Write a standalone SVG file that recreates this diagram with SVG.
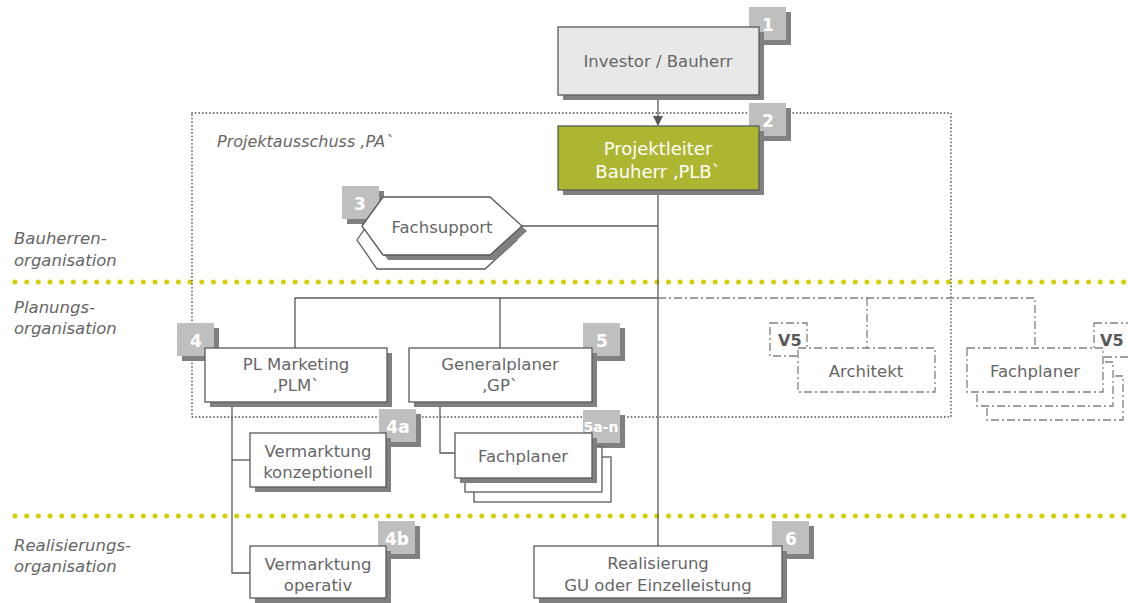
<svg xmlns="http://www.w3.org/2000/svg" width="1128" height="603" viewBox="0 0 1128 603">
<defs>
<style>
.t{font-family:"DejaVu Sans","Liberation Sans",sans-serif;font-size:16.5px;fill:#666;text-anchor:middle}
.lbl{font-family:"DejaVu Sans","Liberation Sans",sans-serif;font-size:16.5px;fill:#666;font-style:italic}
.box{fill:#fff;stroke:#595959;stroke-width:1.3}
.sh{fill:#808080}
.bd{fill:#bfbfbf}
.bn{font-family:"DejaVu Sans","Liberation Sans",sans-serif;font-weight:bold;font-size:17px;fill:#fff;text-anchor:middle}
.dd{fill:#fff;stroke:#808080;stroke-width:1.3;stroke-dasharray:8 3 2 3}
.ln{fill:none;stroke:#595959;stroke-width:1.3}
.ddl{fill:none;stroke:#808080;stroke-width:1.3;stroke-dasharray:8 3 2 3}
.v5{font-family:"DejaVu Sans","Liberation Sans",sans-serif;font-weight:bold;font-size:16px;fill:#595959}
</style>
<marker id="arr" markerWidth="10" markerHeight="10" refX="9" refY="5" orient="auto" markerUnits="userSpaceOnUse">
<path d="M0,0 L10,5 L0,10 Z" fill="#595959"/>
</marker>
</defs>
<rect width="1128" height="603" fill="#fff"/>

<g id="bands">
<line x1="15" y1="282" x2="1125" y2="282" stroke="#d4cf00" stroke-width="5" stroke-linecap="round" stroke-dasharray="0 11.67"/>
<line x1="15" y1="516" x2="1125" y2="516" stroke="#d4cf00" stroke-width="5" stroke-linecap="round" stroke-dasharray="0 11.67"/>
<text class="lbl" x="14" y="244">Bauherren-</text>
<text class="lbl" x="14" y="266">organisation</text>
<text class="lbl" x="14" y="313">Planungs-</text>
<text class="lbl" x="14" y="334">organisation</text>
<text class="lbl" x="14" y="551">Realisierungs-</text>
<text class="lbl" x="14" y="572">organisation</text>
</g>

<g id="pa">
<rect x="192" y="113" width="759" height="304" fill="none" stroke="#666" stroke-width="1.8" stroke-linecap="round" stroke-dasharray="0 3.6"/>
<text class="lbl" x="217" y="147" style="font-size:16px">Projektausschuss ‚PA`</text>
</g>

<g id="connectors">
<line class="ln" x1="658" y1="95" x2="658" y2="125" marker-end="url(#arr)"/>
<line class="ln" x1="658" y1="190" x2="658" y2="546"/>
<line class="ln" x1="522" y1="226" x2="658" y2="226"/>
<polyline class="ln" points="295,348 295,298 658,298"/>
<line class="ln" x1="500" y1="298" x2="500" y2="348"/>
<polyline class="ddl" points="658,298 1035,298 1035,348"/>
<line class="ddl" x1="867" y1="298" x2="867" y2="348"/>
<polyline class="ln" points="232,402 232,573 250,573"/>
<line class="ln" x1="232" y1="460" x2="250" y2="460"/>
<polyline class="ln" points="440,402 440,453 455,453"/>
</g>

<g id="n1">
<rect class="bd" x="754" y="12" width="37" height="33" fill="#808080" style="fill:#808080"/>
<rect class="bd" x="749" y="7" width="37" height="33"/>
<rect class="sh" x="563" y="32" width="201" height="68"/>
<rect class="box" x="558" y="27" width="201" height="68" style="fill:#e8e8e8"/>
<text class="bn" x="768" y="31">1</text>
<text class="t" x="658" y="67">Investor / Bauherr</text>
</g>

<g id="n2">
<rect x="754" y="108" width="37" height="33" fill="#808080"/>
<rect class="bd" x="749" y="103" width="37" height="33"/>
<rect class="sh" x="563" y="131" width="201" height="64"/>
<rect class="box" x="558" y="126" width="201" height="64" style="fill:#adb630"/>
<text class="bn" x="768" y="127">2</text>
<text class="t" x="658" y="155" style="fill:#fff;font-size:18px">Projektleiter</text>
<text class="t" x="658" y="178" style="fill:#fff;font-size:18px">Bauherr ‚PLB`</text>
</g>

<g id="n3">
<rect x="347" y="191" width="37" height="33" fill="#808080"/>
<rect class="bd" x="342" y="186" width="37" height="33"/>
<text class="bn" x="360" y="210">3</text>
<path class="box" d="M357,240 L377,211 L485,211 L517,240 L485,269 L377,269 Z"/>
<path class="sh" d="M367,231 L388,202 L495,202 L527,231 L495,260 L388,260 Z"/>
<path class="box" d="M362,226 L383,197 L490,197 L522,226 L490,255 L383,255 Z"/>
<text class="t" x="442" y="233">Fachsupport</text>
</g>

<g id="n4">
<rect x="182" y="328" width="37" height="33" fill="#808080"/>
<rect class="bd" x="177" y="323" width="37" height="33"/>
<text class="bn" x="196" y="347">4</text>
<rect class="sh" x="210" y="353" width="182" height="54"/>
<rect class="box" x="205" y="348" width="182" height="54"/>
<text class="t" x="296" y="370">PL Marketing</text>
<text class="t" x="296" y="391">‚PLM`</text>
</g>

<g id="n5">
<rect x="588" y="328" width="37" height="33" fill="#808080"/>
<rect class="bd" x="583" y="323" width="37" height="33"/>
<text class="bn" x="602" y="347">5</text>
<rect class="sh" x="414" y="353" width="183" height="54"/>
<rect class="box" x="409" y="348" width="183" height="54"/>
<text class="t" x="500" y="370">Generalplaner</text>
<text class="t" x="500" y="391">‚GP`</text>
</g>

<g id="architekt">
<rect class="dd" x="770" y="323" width="37" height="33"/>
<text class="v5" x="778" y="346">V5</text>
<rect class="dd" x="798" y="348" width="137" height="44"/>
<text class="t" x="866" y="377">Architekt</text>
</g>

<g id="fachplaner-v5">
<rect class="dd" x="1094" y="323" width="40" height="34"/>
<text class="v5" x="1100" y="346">V5</text>
<rect class="dd" x="987" y="376" width="136" height="44"/>
<rect class="dd" x="977" y="362" width="136" height="44"/>
<rect class="dd" x="967" y="348" width="136" height="44"/>
<text class="t" x="1035" y="377">Fachplaner</text>
</g>

<g id="n4a">
<rect x="384" y="414" width="37" height="33" fill="#808080"/>
<rect class="bd" x="379" y="409" width="37" height="33"/>
<text class="bn" x="398" y="433">4a</text>
<rect class="sh" x="255" y="438" width="136" height="54"/>
<rect class="box" x="250" y="433" width="136" height="54"/>
<text class="t" x="318" y="457">Vermarktung</text>
<text class="t" x="318" y="478">konzeptionell</text>
</g>

<g id="n5a">
<rect x="588" y="415" width="37" height="33" fill="#808080"/>
<rect class="bd" x="583" y="410" width="37" height="33"/>
<rect class="box" x="474" y="457" width="137" height="45"/>
<rect class="box" x="465" y="447" width="137" height="45"/>
<rect class="sh" x="460" y="438" width="137" height="45"/>
<rect class="box" x="455" y="433" width="137" height="45"/>
<text class="bn" x="601" y="432" style="font-size:14px">5a-n</text>
<text class="t" x="523" y="462">Fachplaner</text>
</g>

<g id="n4b">
<rect x="383" y="526" width="37" height="33" fill="#808080"/>
<rect class="bd" x="378" y="521" width="37" height="33"/>
<text class="bn" x="397" y="545">4b</text>
<rect class="sh" x="255" y="551" width="136" height="52"/>
<rect class="box" x="250" y="546" width="136" height="52"/>
<text class="t" x="318" y="570">Vermarktung</text>
<text class="t" x="318" y="591">operativ</text>
</g>

<g id="n6">
<rect x="777" y="526" width="37" height="33" fill="#808080"/>
<rect class="bd" x="772" y="521" width="37" height="33"/>
<text class="bn" x="791" y="545">6</text>
<rect class="sh" x="539" y="551" width="248" height="52"/>
<rect class="box" x="534" y="546" width="248" height="52"/>
<text class="t" x="658" y="569">Realisierung</text>
<text class="t" x="658" y="591">GU oder Einzelleistung</text>
</g>
</svg>
